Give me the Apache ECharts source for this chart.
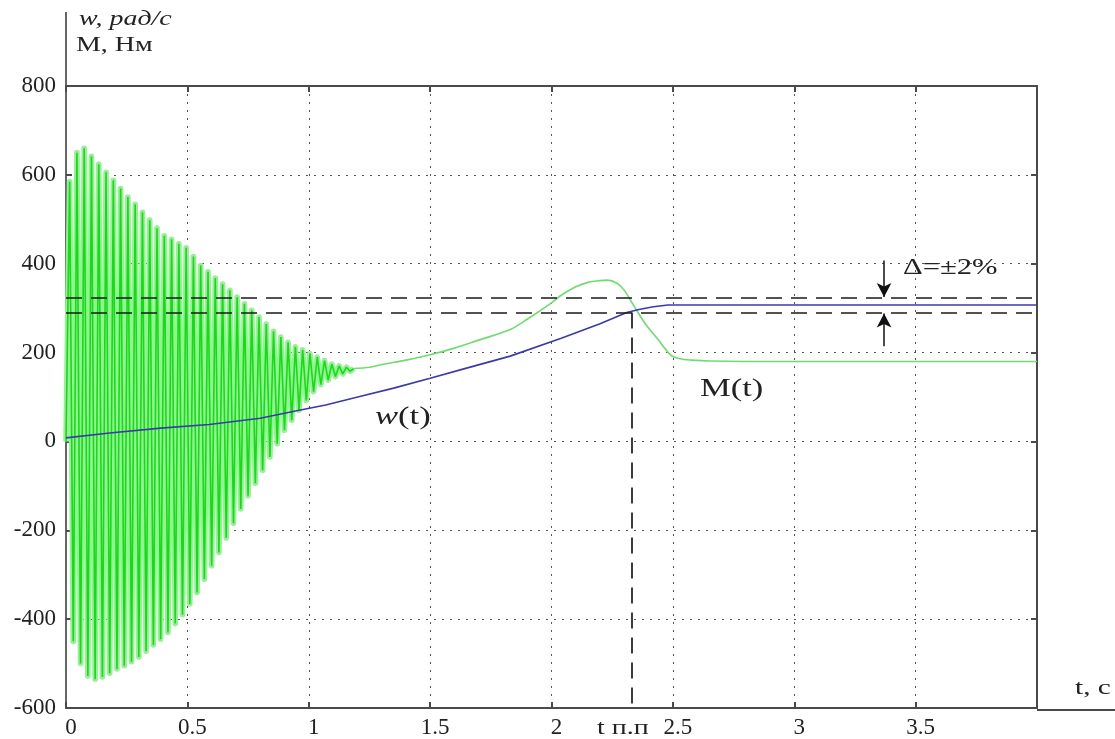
<!DOCTYPE html>
<html>
<head>
<meta charset="utf-8">
<script src="https://cdn.jsdelivr.net/npm/echarts@6/dist/echarts.min.js"></script>
<style>
html, body { margin: 0; padding: 0; background: #fff; }
#chart { width: 1115px; height: 739px; }
</style>
</head>
<body>
<div id="chart"></div>
<script>
// w(t), rad/s
let wTime = [0, 0.18, 0.39, 0.59, 0.8, 0.94, 1.07, 1.21, 1.35, 1.5, 1.65, 1.83, 2.04, 2.2, 2.31, 2.36, 2.42, 2.48, 3.0, 3.5, 4.0]
let wValue = [8, 19, 30, 38, 52, 68, 82, 101, 120, 142, 165, 192, 232, 265, 290, 297, 303, 307, 307, 307, 307]

// M(t), start-up oscillation: peaks and troughs
let mOscTime = [0, 0.015, 0.03, 0.045, 0.06, 0.075, 0.09, 0.105, 0.12, 0.135, 0.15, 0.165, 0.18, 0.195, 0.21, 0.225, 0.24, 0.255, 0.27, 0.285, 0.3, 0.315, 0.33, 0.345, 0.36, 0.375, 0.39, 0.405, 0.42, 0.435, 0.45, 0.465, 0.48, 0.495, 0.51, 0.525, 0.54, 0.555, 0.57, 0.585, 0.6, 0.615, 0.63, 0.645, 0.66, 0.675, 0.69, 0.705, 0.72, 0.735, 0.75, 0.765, 0.78, 0.795, 0.81, 0.825, 0.84, 0.855, 0.87, 0.885, 0.9, 0.915, 0.93, 0.945, 0.96, 0.975, 0.99, 1.005, 1.02, 1.035, 1.05, 1.065, 1.08, 1.095, 1.11, 1.125, 1.14, 1.155, 1.17, 1.185]
let mOscValue = [0, 585, -450, 650, -500, 660, -528, 642, -535, 624, -530, 606, -522, 588, -512, 569, -505, 550, -496, 534, -485, 516, -472, 498, -458, 480, -445, 463, -430, 455, -410, 445, -390, 436, -366, 416, -340, 396, -310, 382, -280, 368, -250, 354, -217, 340, -184, 325, -152, 310, -122, 295, -94, 280, -65, 264, -35, 248, -5, 235, 25, 223, 48, 213, 70, 206, 92, 198, 112, 190, 128, 182, 138, 174, 146, 170, 152, 167, 158, 164]

// M(t), after the oscillation dies out
let mTime = [1.185, 1.25, 1.3, 1.4, 1.5, 1.6, 1.7, 1.83, 1.9, 2.0, 2.04, 2.1, 2.15, 2.2, 2.23, 2.27, 2.3, 2.345, 2.39, 2.435, 2.49, 2.53, 2.58, 2.65, 2.8, 3.0, 3.5, 4.0]
let mValue = [164, 167, 173, 183, 195, 210, 228, 252, 275, 312, 329, 348, 358, 362, 363, 356, 340, 300, 262, 232, 195, 186, 183, 181, 180, 180, 180, 180]

// ±2% band and settling time
let bandHigh = 323
let bandLow = 290
let tSettle = 2.33

let xTicks = [0, 0.5, 1, 1.5, 2, 2.5, 3, 3.5]

function zip(a, b) {
	let res = []
	for (let i = 0; i < a.length; i++) res.push([a[i], b[i]])
	return res
}

let serif = '"Liberation Serif", "Times New Roman", serif'
let axisColor = '#4a4a4a'
let textColor = '#222'
let stretch = 1.33 // the reference text is drawn wider than normal

function label(x, y, text, size, extra) {
	let style = { text: text, font: size + 'px ' + serif, fill: textColor }
	if (extra) Object.assign(style, extra)
	return { type: 'text', x: x, y: y, scaleX: stretch, style: style, z: 10 }
}

let option = {
	backgroundColor: '#fff',
	animation: false,
	grid: { left: 66, top: 86, right: 78, bottom: 29 },
	xAxis: [
		{
			type: 'value',
			min: 0,
			max: 4,
			interval: 0.5,
			axisLine: { show: true, onZero: false, lineStyle: { color: axisColor, width: 2 } },
			axisTick: { show: true, inside: true, length: 6, lineStyle: { color: axisColor, width: 2 } },
			axisLabel: {
				margin: 8,
				color: textColor,
				fontFamily: serif,
				fontSize: 23,
				padding: [0, 0, 0, 10],
				formatter: function (v) {
					return xTicks.indexOf(v) >= 0 ? String(v) : ''
				},
			},
			splitLine: { show: true, lineStyle: { color: '#555', type: [2, 6], width: 1 } },
		},
		{
			type: 'value',
			position: 'top',
			min: 0,
			max: 4,
			interval: 0.5,
			axisLine: { show: true, onZero: false, lineStyle: { color: axisColor, width: 2 } },
			axisTick: { show: true, inside: true, length: 6, lineStyle: { color: axisColor, width: 2 } },
			axisLabel: { show: false },
			splitLine: { show: false },
		},
	],
	yAxis: [
		{
			type: 'value',
			min: -600,
			max: 800,
			interval: 200,
			axisLine: { show: true, onZero: false, lineStyle: { color: '#666', width: 2 } },
			axisTick: { show: true, inside: true, length: 6, lineStyle: { color: axisColor, width: 2 } },
			axisLabel: { margin: 10, color: textColor, fontFamily: serif, fontSize: 23 },
			splitLine: { show: true, lineStyle: { color: '#555', type: [2, 6], width: 1 } },
		},
		{
			type: 'value',
			position: 'right',
			min: -600,
			max: 800,
			interval: 200,
			axisLine: { show: true, onZero: false, lineStyle: { color: axisColor, width: 2 } },
			axisTick: { show: true, inside: true, length: 6, lineStyle: { color: axisColor, width: 2 } },
			axisLabel: { show: false },
			splitLine: { show: false },
		},
	],
	series: [
		{
			// soft under-stroke so the oscillation reads as a filled band
			name: 'M osc glow',
			type: 'line',
			data: zip(mOscTime, mOscValue),
			showSymbol: false,
			silent: true,
			lineStyle: { color: '#98ef98', width: 5.6, join: 'round' },
			z: 1,
		},
		{
			name: 'M osc',
			type: 'line',
			data: zip(mOscTime, mOscValue),
			showSymbol: false,
			lineStyle: { color: '#0fe00f', width: 1.6 },
			z: 2,
		},
		{
			name: 'M',
			type: 'line',
			data: zip(mTime, mValue),
			showSymbol: false,
			smooth: 0.3,
			lineStyle: { color: '#6fdc6f', width: 1.6 },
			z: 2,
			markLine: {
				silent: true,
				symbol: ['none', 'arrow'],
				symbolSize: [11, 14],
				label: { show: false },
				lineStyle: { color: '#111', type: 'solid', width: 1.5 },
				data: [
					[{ coord: [3.37, 407] }, { coord: [3.37, bandHigh + 2] }],
					[{ coord: [3.37, 214] }, { coord: [3.37, bandLow - 2] }],
				],
			},
		},
		{
			name: 'w',
			type: 'line',
			data: zip(wTime, wValue),
			showSymbol: false,
			lineStyle: { color: '#3a3aaa', width: 1.6 },
			z: 3,
			markLine: {
				silent: true,
				symbol: 'none',
				label: { show: false },
				lineStyle: { color: '#1a1a1a', type: [16, 9], width: 1.7 },
				data: [
					{ yAxis: bandHigh },
					{ yAxis: bandLow },
					[{ coord: [tSettle, bandLow] }, { coord: [tSettle, -600] }],
				],
			},
		},
	],
	graphic: [
		// axis line continues above the plot and past its right edge
		{ type: 'line', shape: { x1: 66, y1: 12, x2: 66, y2: 86 }, style: { stroke: '#666', lineWidth: 2 } },
		{ type: 'line', shape: { x1: 1037, y1: 710, x2: 1115, y2: 710 }, style: { stroke: axisColor, lineWidth: 2 } },
		label(79, 9, 'w, рад/с', 21, { font: 'italic 21px ' + serif }),
		label(76, 35, 'M, Нм', 21),
		label(1075, 677, 't, c', 22),
		label(597, 718, 't п.п', 21),
		label(903, 256, 'Δ=±2%', 23),
		label(375, 404, '{i|w}(t)', 26, { rich: { i: { fontStyle: 'italic', fontSize: 26, fontFamily: serif } } }),
		label(700, 376, 'M(t)', 26),
	],
}

let myChart = echarts.init(document.getElementById('chart'))
myChart.setOption(option)
window.addEventListener('resize', function () {
	myChart.resize()
})
</script>
</body>
</html>
